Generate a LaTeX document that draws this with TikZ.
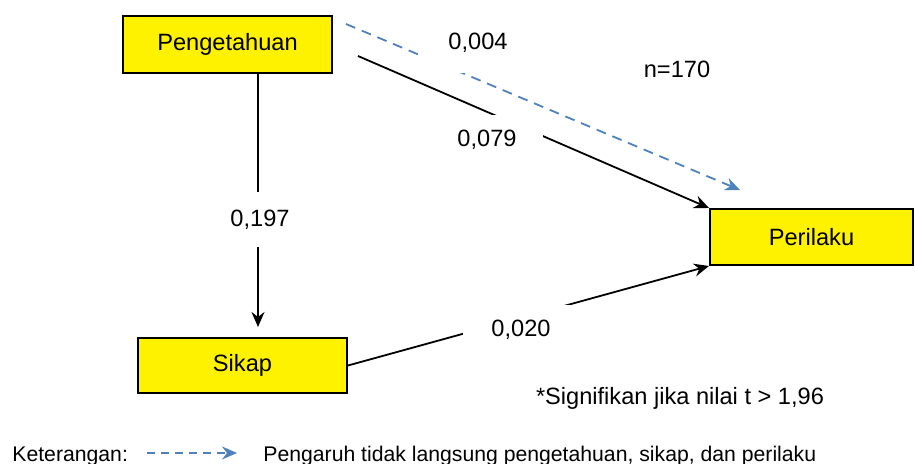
\documentclass[tikz,border=0pt]{standalone}
\usepackage{fontspec}
\setmainfont{Liberation Sans}
\usetikzlibrary{arrows.meta}
\definecolor{ketblue}{RGB}{79,129,189}
\tikzset{varbox/.style={draw,line width=1pt,fill=yellow,minimum width=104.5pt,minimum height=28.5pt,font=\fontsize{11.8}{14}\selectfont},
         coef/.style={fill=white,inner sep=0pt,font=\fontsize{11.8}{14}\selectfont},
         note/.style={inner sep=0pt,font=\fontsize{11.8}{14}\selectfont},
         legendtext/.style={inner sep=0pt,anchor=base west,font=\fontsize{10.6}{13}\selectfont},
         effect/.style={->,line width=0.9pt},
         indirect/.style={->,ketblue,line width=0.9pt,dash pattern=on 5pt off 3.5pt}}

\begin{document}
\begin{tikzpicture}[x=0.5pt,y=-0.5pt,>={Stealth[length=7.5pt,width=6.5pt,inset=2.5pt]}]
                  \useasboundingbox (0,0) rectangle (915,464);
                  \node[varbox] (peng) at (227.5,44.5) {Pengetahuan};
                  \node[varbox,minimum width=101.5pt,minimum height=28pt] (perilaku) at (811.5,237) {Perilaku};
                  \node[varbox,minimum height=27.5pt] (sikap) at (242.5,365.5) {Sikap};
                  \coordinate (pengout) at (358,56);
                  \coordinate (dashout) at (346,24);
                  \coordinate (dashend) at (740,190);
                  \coordinate (sikapin) at (258,327);
                  \draw[effect] (pengout) -- (perilaku.north west);
                  \draw[indirect] (dashout) -- (dashend);
                  \draw[effect] (peng.south -| sikapin) -- (sikapin);
                  \draw[effect] (sikap.east) -- (perilaku.south west);
                  \node[coef,minimum width=60pt,minimum height=30pt] (c004) at (478,43) {0,004};
                  \node[coef,minimum width=56pt,minimum height=25pt] (c079) at (487,140) {0,079};
                  \node[coef,minimum width=35pt,minimum height=27.5pt] (c197) at (260,220) {0,197};
                  \node[coef,minimum width=58pt,minimum height=25pt] (c020) at (521,330) {0,020};
                  \node[note] (sampel) at (677,69) {n=170};
                  \node[note] (signif) at (680,398) {*Signifikan jika nilai t > 1,96};
                  \node[legendtext] (ket) at (12,461) {Keterangan:};
                  \coordinate (legstart) at (147,453);
                  \coordinate (legend) at (237,453);
                  \draw[indirect,dash pattern=on 4pt off 3pt] (legstart) -- (legend);
                  \node[legendtext] (ketdash) at (263,461) {Pengaruh tidak langsung pengetahuan, sikap, dan perilaku};
              \end{tikzpicture}
\end{document}
